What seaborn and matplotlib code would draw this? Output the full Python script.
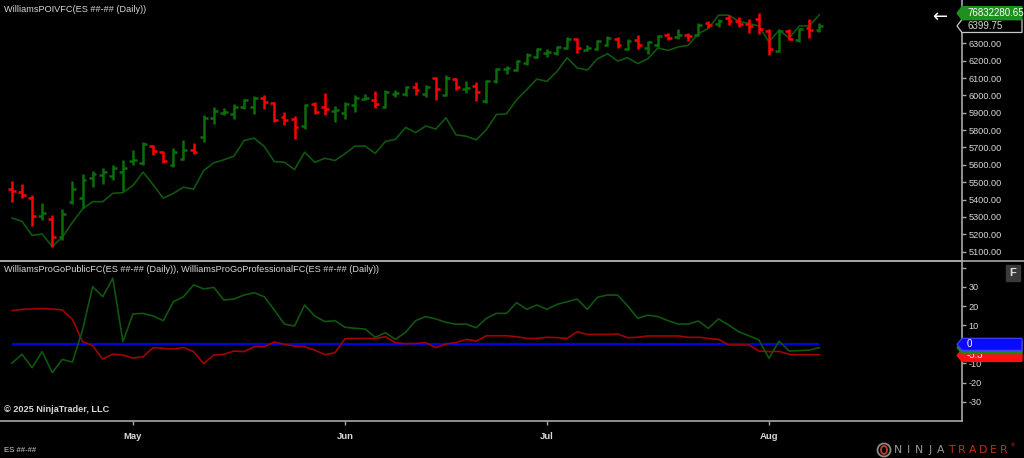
import numpy as np
import pandas as pd
import matplotlib
matplotlib.use("Agg")
import matplotlib.pyplot as plt
import seaborn as sns
from matplotlib.patches import Polygon, Rectangle, Ellipse
from matplotlib.lines import Line2D

# ---------------- data ----------------
opens = [5460, 5442, 5410, 5305, 5289, 5183, 5385, 5410, 5525, 5540,
         5536, 5560, 5620, 5610, 5706, 5673, 5600, 5635, 5687, 5760,
         5870, 5898, 5894, 5933, 5933, 5987, 5956, 5875, 5866, 5821,
         5950, 5935, 5910, 5898, 5942, 5981, 5975, 5933, 6010, 6010,
         6048, 6010, 6100, 6000, 6096, 6035, 6054, 5965, 6081, 6150,
         6148, 6188, 6221, 6244, 6244, 6275, 6323, 6262, 6265, 6292,
         6327, 6265, 6320, 6273, 6290, 6350, 6336, 6350, 6350, 6414,
         6410, 6448, 6427, 6410, 6442, 6371, 6256, 6371, 6321, 6388,
         6375]
highs = [5506, 5490, 5429, 5379, 5313, 5346, 5506, 5548, 5567, 5583,
         5602, 5629, 5687, 5731, 5712, 5679, 5698, 5744, 5725, 5885,
         5935, 5929, 5952, 5981, 5994, 6004, 5962, 5904, 5879, 5948,
         5960, 6015, 5937, 5962, 6000, 6006, 6023, 6033, 6033, 6054,
         6079, 6058, 6106, 6115, 6100, 6081, 6077, 6087, 6160, 6169,
         6206, 6246, 6273, 6269, 6285, 6336, 6331, 6292, 6321, 6340,
         6336, 6323, 6348, 6311, 6350, 6362, 6381, 6362, 6414, 6427,
         6438, 6462, 6452, 6442, 6477, 6381, 6381, 6381, 6388, 6438,
         6419]
lows = [5384, 5410, 5250, 5283, 5125, 5167, 5375, 5352, 5475, 5490,
        5514, 5452, 5602, 5602, 5654, 5610, 5590, 5629, 5660, 5731,
        5835, 5885, 5862, 5919, 5890, 5919, 5846, 5827, 5750, 5808,
        5890, 5885, 5846, 5866, 5904, 5971, 5929, 5929, 5990, 5994,
        6000, 5990, 5971, 5996, 6029, 6015, 5965, 5958, 6073, 6125,
        6138, 6177, 6215, 6221, 6235, 6269, 6246, 6254, 6260, 6285,
        6273, 6260, 6270, 6240, 6279, 6317, 6327, 6311, 6342, 6388,
        6394, 6404, 6394, 6362, 6356, 6235, 6250, 6317, 6308, 6331,
        6365]
closes = [5450, 5429, 5304, 5320, 5186, 5317, 5460, 5514, 5545, 5560,
          5581, 5580, 5630, 5721, 5679, 5625, 5673, 5687, 5675, 5871,
          5910, 5906, 5933, 5975, 5987, 5962, 5856, 5856, 5817, 5942,
          5904, 5920, 5917, 5952, 5987, 5987, 5948, 6019, 6015, 6048,
          6029, 6046, 6039, 6100, 6048, 6042, 6019, 6081, 6154, 6157,
          6198, 6235, 6265, 6250, 6277, 6323, 6273, 6273, 6312, 6329,
          6292, 6315, 6290, 6306, 6340, 6331, 6350, 6342, 6404, 6404,
          6427, 6427, 6410, 6398, 6381, 6269, 6369, 6327, 6381, 6375,
          6399.75]
# Williams POIV, shown on the price panel (price-equivalent units)
poiv = [5294, 5275, 5194, 5202, 5129, 5183, 5269, 5346, 5388, 5388,
        5436, 5440, 5481, 5558, 5485, 5408, 5436, 5471, 5460, 5567,
        5612, 5629, 5650, 5740, 5754, 5706, 5619, 5615, 5573, 5673,
        5615, 5638, 5625, 5664, 5708, 5708, 5666, 5735, 5747, 5815,
        5786, 5824, 5806, 5871, 5773, 5765, 5744, 5802, 5890, 5894,
        5975, 6033, 6094, 6081, 6138, 6217, 6158, 6146, 6210, 6240,
        6198, 6217, 6183, 6211, 6273, 6259, 6279, 6288, 6356, 6385,
        6462, 6462, 6427, 6414, 6400, 6308, 6375, 6331, 6400, 6400,
        6465]
poiv_last_label = "76832280.65"
public = [-9.9, -5.2, -12.2, -3.8, -14.8, -7.9, -9.3, 7.5, 30.2, 24.9,
          34.6, 1.4, 15.9, 16.2, 14.8, 12.4, 22.3, 24.9, 31.1, 29.0,
          29.8, 23.2, 23.7, 25.8, 27.0, 24.9, 18.0, 10.6, 9.6, 20.6,
          14.8, 11.9, 12.4, 8.9, 8.4, 8.0, 3.7, 6.1, 2.6, 6.3,
          12.4, 14.5, 13.3, 11.5, 10.5, 10.6, 8.7, 13.6, 16.2, 16.2,
          21.8, 18.3, 20.6, 18.3, 20.9, 22.3, 23.7, 18.3, 24.6, 25.8,
          25.8, 20.1, 13.6, 15.3, 14.5, 12.4, 10.6, 10.6, 12.2, 8.4,
          13.3, 10.1, 6.6, 4.5, 2.3, -7.3, 1.7, -3.5, -3.3, -3.0,
          -1.7]
professional = [17.6, 18.3, 18.5, 18.7, 18.5, 18.0, 13.1, 1.4, -0.7, -7.7,
                 -5.1, -5.6, -7.2, -6.5, -1.7, -2.1, -2.4, -1.7, -3.8, -10.1,
                 -5.6, -5.2, -3.5, -3.8, -1.2, -1.2, 1.2, 0.0, -0.9, -1.2,
                 -3.0, -5.4, -4.4, 3.0, 3.1, 3.1, 3.1, 4.0, 0.9, 0.3,
                 0.5, 0.9, -1.7, 0.2, 0.9, 2.6, 1.7, 4.5, 4.5, 4.5,
                 4.0, 3.1, 3.1, 3.7, 3.5, 3.1, 6.6, 5.2, 5.2, 5.2,
                 5.4, 3.5, 3.7, 4.4, 4.4, 4.4, 4.4, 3.7, 3.7, 3.1,
                 2.6, -0.3, -0.3, -0.3, -3.5, -3.8, -3.7, -5.2, -5.4, -5.4,
                 -5.3]
month_labels = ["May", "Jun", "Jul", "Aug"]
price_ticks = list(range(5100, 6501, 100))
osc_ticks = [-30, -20, -10, 0, 10, 20, 30, 40]
holidays = ["2025-04-18", "2025-05-26", "2025-06-19", "2025-07-04"]
dates = pd.bdate_range("2025-04-14", "2025-08-08", freq="C", holidays=holidays)

# ---------------- styling ----------------
sns.set_theme(style="dark")
plt.rcParams['font.family'] = ['Liberation Sans', 'DejaVu Sans']
TXT = '#d8d8d8'
AX = '#a8a8a8'
BAR_G = '#0b6e0b'
BAR_R = '#ff0000'
LINE_G = '#0f560f'
LINE_R = '#a30000'
BLUE = '#0000d8'
FS = 6.6

W, H = 1024, 458
fig = plt.figure(figsize=(W / 100, H / 100), dpi=100, facecolor='black')


def rect(x0, y0, x1, y1):
    return [x0 / W, 1 - y1 / H, (x1 - x0) / W, (y1 - y0) / H]


ax1 = fig.add_axes(rect(0, 0, 962, 261))
ax2 = fig.add_axes(rect(0, 261, 962, 421))

n = len(closes)
idx = np.arange(n)
df = pd.DataFrame({"idx": idx, "date": dates[:n], "open": opens, "high": highs,
                   "low": lows, "close": closes, "poiv": poiv,
                   "public": public, "professional": professional})

xlim = (-1.175, 94.12)
for ax in (ax1, ax2):
    ax.set_facecolor('black')
    ax.set_xlim(*xlim)
    ax.grid(False)
    for s in ax.spines.values():
        s.set_visible(False)

# ---------- price panel ----------
ax1.set_ylim(5046.4, 6549.3)
sns.lineplot(data=df, x="idx", y="poiv", ax=ax1, color=LINE_G, lw=1.2, zorder=2)
cols = [BAR_G if c >= o else BAR_R for o, c in zip(opens, closes)]
ax1.vlines(idx, lows, highs, colors=cols, lw=1.8, zorder=3)
ax1.hlines(opens, idx - 0.38, idx, colors=cols, lw=1.8, zorder=3)
ax1.hlines(closes, idx, idx + 0.38, colors=cols, lw=1.8, zorder=3)
ax1.set_xlabel('')
ax1.set_ylabel('')
ax1.set_xticks([])
ax1.yaxis.tick_right()
ax1.set_yticks(price_ticks)
ax1.set_yticklabels([f"{t:.2f}" for t in price_ticks])
ax1.tick_params(axis='y', colors=AX, labelcolor=TXT, labelsize=FS, length=3,
                width=1, pad=1.5, right=True, left=False)
ax1.spines['right'].set_visible(True)
ax1.spines['right'].set_color(AX)
ax1.spines['right'].set_linewidth(1.2)

# ---------- oscillator panel ----------
ax2.set_ylim(-40.1, 43.6)
ax2.hlines(0, idx[0], idx[-1], colors=BLUE, lw=1.6, zorder=2)
sns.lineplot(data=df, x="idx", y="professional", ax=ax2, color=LINE_R, lw=1.2, zorder=3)
sns.lineplot(data=df, x="idx", y="public", ax=ax2, color=LINE_G, lw=1.2, zorder=3)
ax2.set_xlabel('')
ax2.set_ylabel('')
ax2.yaxis.tick_right()
ax2.set_yticks(osc_ticks)
ax2.set_yticklabels([str(t) if t != 40 else '' for t in osc_ticks])
month_pos = [int(np.argmax(df["date"].dt.strftime('%b') == m)) for m in month_labels]
ax2.set_xticks(month_pos)
ax2.set_xticklabels(month_labels)
ax2.tick_params(axis='y', colors=AX, labelcolor=TXT, labelsize=FS, length=3,
                width=1, pad=1.5, right=True, left=False)
ax2.tick_params(axis='x', colors=AX, labelcolor=TXT, labelsize=6.8, length=3,
                width=1, pad=5, bottom=True)
for lab in ax2.get_xticklabels():
    lab.set_fontweight('bold')
for side in ('right', 'bottom', 'top'):
    ax2.spines[side].set_visible(True)
    ax2.spines[side].set_color(AX)
    ax2.spines[side].set_linewidth(1.2)

# separator across the full width
fig.add_artist(Line2D([0, 1], [1 - 261 / H, 1 - 261 / H], color=AX, lw=1.2,
                      transform=fig.transFigure))


# ---------- value labels on the right scale ----------
def flag(ax, value, text, face, edge, tcolor, h_px, dy_px=0, z=10):
    y_disp = ax.transData.transform((0, value))[1] + dy_px
    yc = y_disp / H
    h = h_px / 2 / H
    x0, x1 = 957 / W, 1022 / W
    tip = 5 / W
    pts = [(x0, yc), (x0 + tip, yc - h), (x1, yc - h), (x1, yc + h), (x0 + tip, yc + h)]
    fig.add_artist(Polygon(pts, closed=True, facecolor=face, edgecolor=edge, lw=0.9,
                           transform=fig.transFigure, zorder=z))
    fig.text(967 / W, yc, text, color=tcolor, fontsize=FS + 0.4, ha='left',
             va='center', zorder=z + 1)


fig.canvas.draw()
flag(ax1, closes[-1], f"{closes[-1]:.2f}", 'black', '#c8c8c8', TXT, 13, 0)
flag(ax1, poiv[-1], poiv_last_label, '#1f8f1f', '#1f8f1f', 'white', 13, 1.5)
flag(ax2, professional[-1], f"{professional[-1]:.1f}", '#ff1010', '#ff1010', 'white', 12, -1, z=10)
flag(ax2, public[-1], f"{public[-1]:.1f}", '#1a8a1a', '#1a8a1a', 'white', 12, 0, z=12)
flag(ax2, 0, "0", '#0a0aff', '#4040ff', 'white', 12, 0, z=14)

# ---------- texts ----------
fig.text(4 / W, 1 - 9 / H, "WilliamsPOIVFC(ES ##-## (Daily))", color=TXT,
         fontsize=FS, va='center', ha='left')
fig.text(4 / W, 1 - 270 / H,
         "WilliamsProGoPublicFC(ES ##-## (Daily)), WilliamsProGoProfessionalFC(ES ##-## (Daily))",
         color=TXT, fontsize=FS, va='center', ha='left')
fig.text(4 / W, 1 - 409 / H, "© 2025 NinjaTrader, LLC", color=TXT, fontsize=FS,
         fontweight='bold', va='center', ha='left')
fig.text(4 / W, 1 - 450 / H, "ES ##-##", color=TXT, fontsize=5.6, va='center', ha='left')
fig.text(940 / W, 1 - 17 / H, "\u2190", color='white', fontsize=13, va='center',
         ha='center', family=['DejaVu Sans'])

# F button
fig.add_artist(Rectangle((1006 / W, 1 - 281 / H), 14 / W, 16 / H, facecolor='#3a3a3a',
                         edgecolor='#3a3a3a', transform=fig.transFigure))
fig.text(1013 / W, 1 - 273 / H, "F", color='#e0e0e0', fontsize=8, fontweight='bold',
         ha='center', va='center')

# NinjaTrader logo
fig.add_artist(Ellipse((884 / W, 1 - 450 / H), 13 / W, 13 / H, facecolor='none',
                       edgecolor='#8a8a8a', lw=1.3, transform=fig.transFigure))
fig.add_artist(Ellipse((884 / W, 1 - 450 / H), 6 / W, 8 / H, facecolor='none',
                       edgecolor='#c04020', lw=1.3, transform=fig.transFigure))
logo = "NINJATRADER"
for k, ch in enumerate(logo):
    fig.text((898 + k * 10.6) / W, 1 - 450 / H, ch,
             color='#9a9a9a' if k < 5 else '#c4301c', fontsize=7.8,
             family=['DejaVu Sans'], ha='center', va='center')
fig.text(1011 / W, 1 - 446 / H, "\u00ae", color='#c4301c', fontsize=4, ha='left', va='center')

fig.savefig("out.png", dpi=100, facecolor='black')
